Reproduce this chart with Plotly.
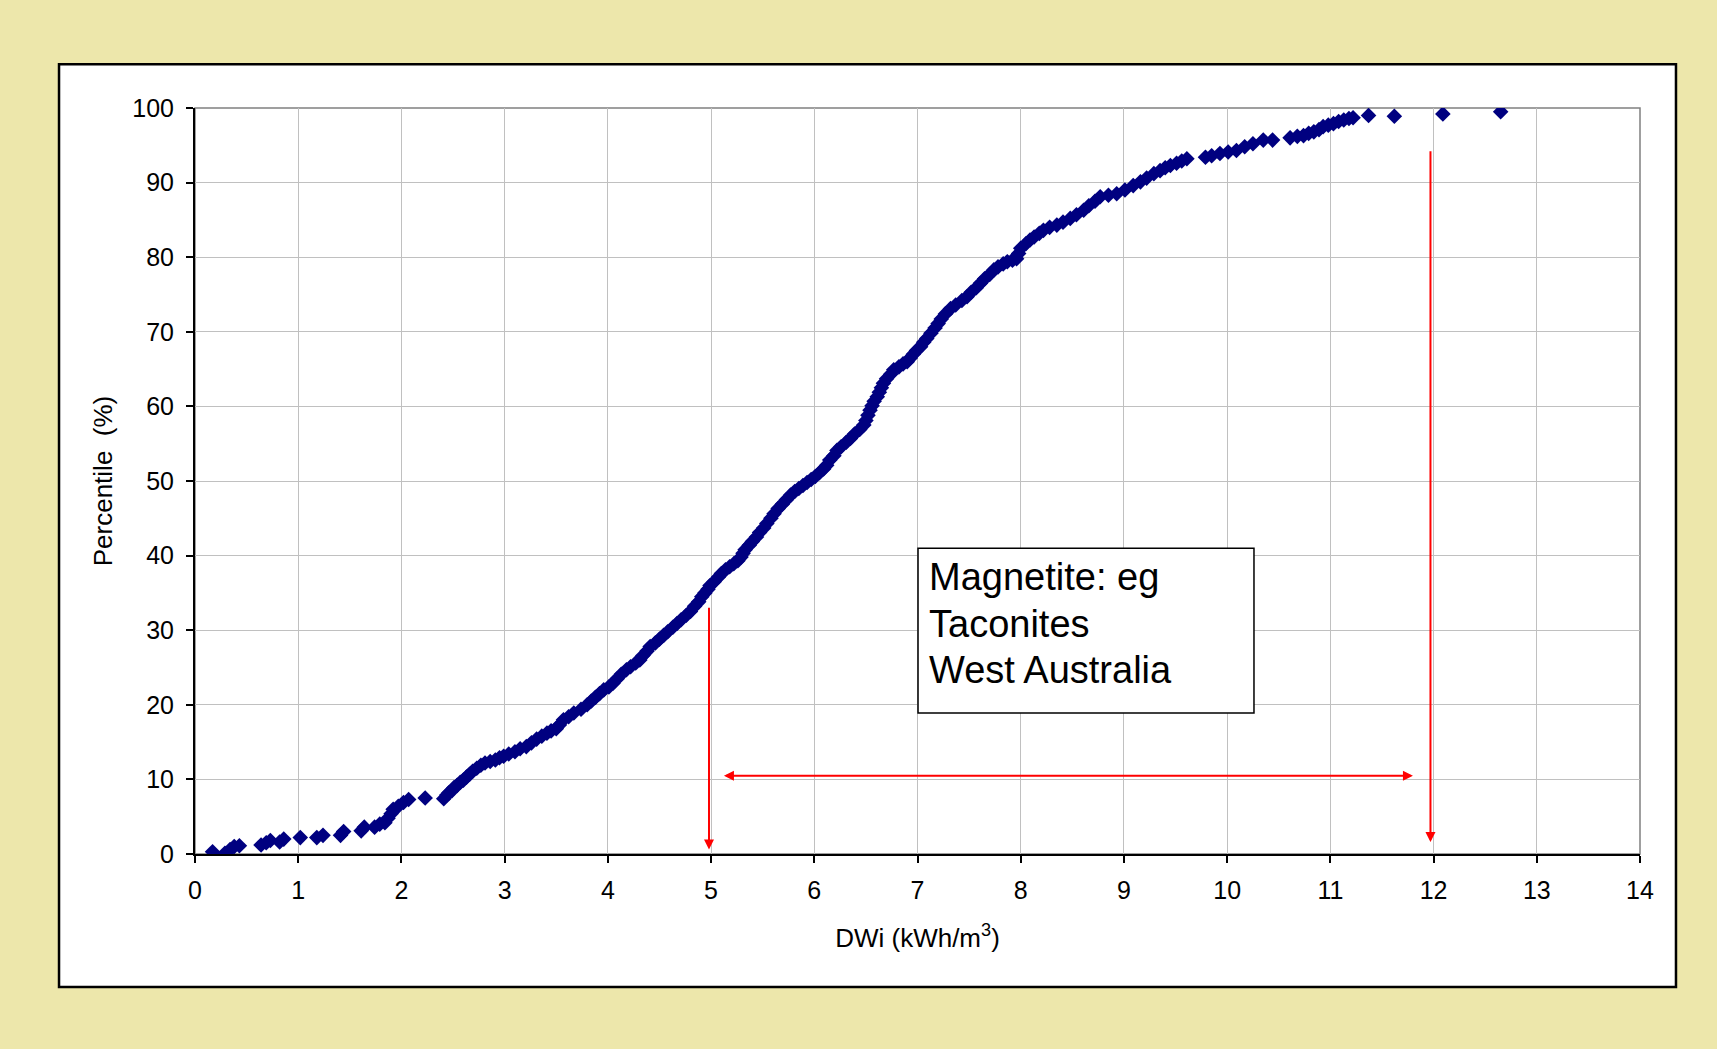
import plotly.graph_objects as go

# ---- data ----
dwi = [0.17, 0.29, 0.34, 0.38, 0.43, 0.64, 0.69, 0.73, 0.82, 0.86, 1.02, 1.18, 1.24, 1.41, 1.44,
       1.61, 1.64, 1.74, 1.79, 1.84, 1.87, 1.90, 1.92, 1.97, 2.02, 2.07, 2.23, 2.41,
       2.44, 2.46, 2.49, 2.51, 2.54, 2.57, 2.60, 2.63, 2.66, 2.69, 2.73, 2.77, 2.81, 2.86, 2.91,
       2.95, 2.99, 3.04, 3.10, 3.15, 3.21, 3.26, 3.31, 3.36, 3.41, 3.45, 3.50, 3.53, 3.57, 3.62,
       3.67, 3.74, 3.80, 3.84, 3.88, 3.92, 3.96, 4.01, 4.05, 4.09, 4.13, 4.18, 4.22, 4.27, 4.31,
       4.34, 4.38, 4.41, 4.46, 4.50, 4.54, 4.58, 4.63, 4.67, 4.71, 4.76, 4.80, 4.84, 4.88, 4.91,
       4.94, 4.97, 4.99, 5.03, 5.07, 5.10, 5.14, 5.18, 5.22, 5.26, 5.29, 5.31, 5.33, 5.37, 5.40,
       5.44, 5.47, 5.51, 5.54, 5.58, 5.61, 5.65, 5.69, 5.73, 5.77, 5.81, 5.85, 5.89, 5.93, 5.97,
       6.01, 6.05, 6.09, 6.12, 6.15, 6.19, 6.22, 6.26, 6.31, 6.35, 6.39, 6.44, 6.48, 6.50, 6.52,
       6.54, 6.56, 6.58, 6.61, 6.63, 6.65, 6.67, 6.70, 6.74, 6.77, 6.82, 6.86, 6.90, 6.93, 6.96,
       6.99, 7.03, 7.06, 7.09, 7.13, 7.17, 7.20, 7.23, 7.27, 7.32, 7.37, 7.43, 7.48, 7.52, 7.57,
       7.61, 7.65, 7.70, 7.74, 7.78, 7.83, 7.87, 7.92, 7.96, 7.98, 8.00, 8.05, 8.09, 8.13, 8.18,
       8.22, 8.28, 8.35, 8.41, 8.48, 8.54, 8.61, 8.66, 8.72, 8.77, 8.85, 8.93, 9.01, 9.09, 9.16,
       9.22, 9.29, 9.35, 9.40, 9.45, 9.51, 9.56, 9.61, 9.79, 9.85, 9.93, 10.01, 10.09, 10.17,
       10.25, 10.35, 10.44, 10.61, 10.68, 10.74, 10.79, 10.84, 10.89, 10.93, 10.98, 11.03, 11.08,
       11.13, 11.18, 11.22, 11.37, 11.62, 12.09, 12.65]
percentile = [0.3, 0.1, 0.6, 1.0, 1.1, 1.2, 1.5, 1.8, 1.6, 2.0, 2.2, 2.2, 2.5, 2.5, 3.0,
              3.1, 3.6, 3.6, 4.0, 4.2, 4.8, 5.4, 6.0, 6.4, 6.9, 7.3, 7.5, 7.4,
              7.9, 8.2, 8.5, 8.9, 9.2, 9.6, 9.9, 10.3, 10.7, 11.1, 11.5, 11.9, 12.2, 12.4, 12.6,
              12.9, 13.1, 13.4, 13.7, 14.1, 14.4, 14.9, 15.4, 15.8, 16.2, 16.5, 16.8, 17.3, 18.0, 18.4,
              18.9, 19.4, 20.0, 20.5, 21.0, 21.5, 22.0, 22.4, 22.9, 23.5, 24.1, 24.7, 25.1, 25.6, 26.0,
              26.6, 27.2, 27.8, 28.3, 28.8, 29.3, 29.8, 30.4, 30.9, 31.4, 32.0, 32.5, 33.2, 33.8, 34.5,
              35.0, 35.5, 36.0, 36.5, 37.1, 37.6, 38.1, 38.5, 38.9, 39.3, 39.8, 40.3, 40.8, 41.4, 41.9,
              42.5, 43.1, 43.7, 44.3, 45.0, 45.6, 46.3, 46.9, 47.5, 48.1, 48.6, 49.0, 49.4, 49.8, 50.2,
              50.6, 51.1, 51.6, 52.1, 52.8, 53.4, 54.1, 54.6, 55.2, 55.7, 56.3, 56.9, 57.5, 58.1, 58.8,
              59.5, 60.1, 60.7, 61.3, 61.9, 62.5, 63.1, 63.7, 64.3, 64.9, 65.3, 65.7, 66.0, 66.5, 67.0,
              67.5, 68.0, 68.6, 69.1, 69.8, 70.5, 71.1, 71.7, 72.4, 73.1, 73.6, 74.2, 74.7, 75.3, 75.9,
              76.5, 77.1, 77.7, 78.3, 78.7, 79.1, 79.4, 79.6, 79.8, 80.5, 81.2, 81.8, 82.3, 82.7, 83.2,
              83.6, 84.0, 84.3, 84.7, 85.2, 85.7, 86.3, 86.9, 87.5, 88.1, 88.3, 88.5, 89.0, 89.6, 90.1,
              90.6, 91.2, 91.6, 92.0, 92.3, 92.6, 92.9, 93.2, 93.4, 93.6, 93.9, 94.1, 94.3, 94.8,
              95.2, 95.7, 95.7, 96.0, 96.2, 96.3, 96.6, 96.8, 97.1, 97.5, 97.7, 97.9, 98.2,
              98.4, 98.6, 98.7, 99.0, 98.9, 99.2, 99.5]

x_ticks = list(range(0, 15))
y_ticks = list(range(0, 101, 10))

note_lines = ["Magnetite: eg", "Taconites", "West Australia"]
note_line_y = [37.1, 30.8, 24.7]
x_title = "DWi (kWh/m<sup>3</sup>)"
y_title = "Percentile\u00a0\u00a0(%)"

# arrows: (tip_x, tip_y, tail_x, tail_y, double)
arrows = [
    (4.98, 0.6, 4.98, 33.2, False),
    (11.97, 1.6, 11.97, 94.4, False),
    (11.80, 10.5, 5.11, 10.5, True),
]

FONT = "Arial, 'Liberation Sans', sans-serif"
BG = "#EDE7AB"

fig = go.Figure()
fig.add_trace(go.Scatter(
    x=dwi, y=percentile, mode="markers",
    marker=dict(symbol="diamond", size=12, color="#000080", line=dict(width=0)),
    showlegend=False, hoverinfo="x+y",
))

axis_common = dict(
    showgrid=True, gridcolor="#C0C0C0", gridwidth=1,
    showline=True, linecolor="black", linewidth=2,
    ticks="outside", ticklen=7, tickwidth=1.5, tickcolor="black",
    zeroline=False, tickfont=dict(family=FONT, size=25, color="black"),
)

fig.update_xaxes(range=[0, 14], tickvals=x_ticks, ticklabelstandoff=6, **axis_common,
                 title=dict(text=x_title, font=dict(family=FONT, size=26, color="black"), standoff=26))
fig.update_yaxes(range=[0, 100], tickvals=y_ticks, ticklabelstandoff=7, **axis_common,
                 title=dict(text=y_title, font=dict(family=FONT, size=26, color="black"), standoff=12))

shapes = [
    # outer chart frame
    dict(type="rect", xref="paper", yref="paper", x0=-0.0941, x1=1.0249, y0=-0.1782, y1=1.0586,
         line=dict(color="black", width=2.5), fillcolor="white", layer="below"),
    # plot area border (gray)
    dict(type="rect", xref="paper", yref="paper", x0=0, x1=1, y0=0, y1=1,
         line=dict(color="#808080", width=1.5), fillcolor="rgba(0,0,0,0)", layer="below"),
    # annotation box
    dict(type="rect", xref="x", yref="y", x0=7.005, x1=10.26, y0=18.9, y1=41.0,
         line=dict(color="black", width=1.5), fillcolor="white", layer="above"),
]

annotations = []
for line, ly in zip(note_lines, note_line_y):
    annotations.append(dict(
        x=7.09, y=ly, xref="x", yref="y", xanchor="left", yanchor="middle", align="left",
        text=line, showarrow=False, font=dict(family=FONT, size=38, color="black")))
for tx, ty, sx, sy, dbl in arrows:
    annotations.append(dict(
        x=tx, y=ty, ax=sx, ay=sy, xref="x", yref="y", axref="x", ayref="y",
        text="", showarrow=True, arrowhead=2, startarrowhead=2, arrowsize=1, startarrowsize=1,
        arrowwidth=2, arrowcolor="#FF0000", standoff=0, startstandoff=0,
        arrowside="end+start" if dbl else "end",
    ))

fig.update_layout(
    width=1717, height=1049,
    margin=dict(l=195, r=77, t=108, b=195),
    paper_bgcolor=BG, plot_bgcolor="white",
    shapes=shapes, annotations=annotations,
    font=dict(family=FONT, color="black"),
)

fig.write_html("out.html")
